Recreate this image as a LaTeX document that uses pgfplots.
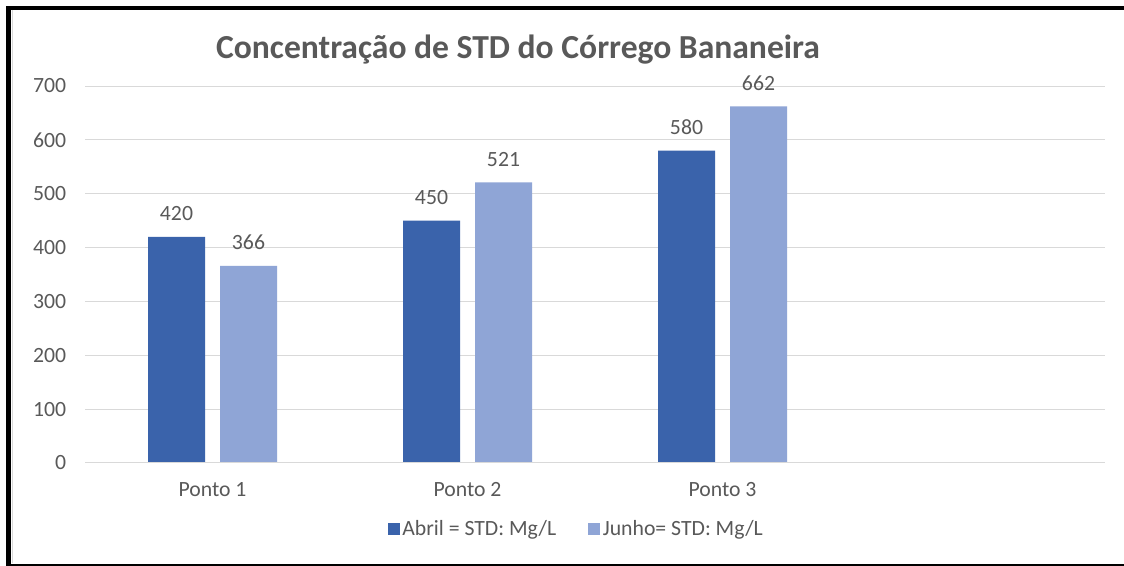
\documentclass[border=0pt]{standalone}
\usepackage{fontspec}
\setmainfont{Carlito}
\usepackage{pgfplots}
\pgfplotsset{compat=1.18}
\definecolor{abril}{HTML}{3A63AB}
\definecolor{junho}{HTML}{8FA5D6}
\definecolor{txt}{HTML}{595959}
\definecolor{gridc}{HTML}{D9D9D9}
\begin{document}
\begin{tikzpicture}[x=1pt,y=1pt]
\path[use as bounding box] (0,0) rectangle (843,424.5);
\fill[white] (0,0) rectangle (843,424.5);
\begin{axis}[
  at={(63.75pt,77.25pt)}, anchor=south west,
  scale only axis, width=765pt, height=282.75pt,
  xmin=-0.5, xmax=3.5, ymin=0, ymax=700,
  ytick={0,100,...,700},
  xtick={0,1,2}, xticklabels={Ponto 1,Ponto 2,Ponto 3},
  axis line style={draw=none},
  major tick length=0pt,
  xmajorgrids=false,
  ymajorgrids=true,
  major grid style={draw=gridc, line width=0.75pt},
  every tick label/.append style={font=\fontsize{16.3}{18}\selectfont, text=txt},
  /pgf/number format/assume math mode=true,
  yticklabel style={anchor=east, inner sep=0pt, xshift=-14pt},
  xticklabel style={anchor=base, inner sep=0pt, yshift=-25.5pt},
  ybar, bar width=42.75pt,
  nodes near coords,
  every node near coord/.append style={font=\fontsize{16.3}{18}\selectfont, text=txt, anchor=base, inner sep=0pt, yshift=12pt},
  legend style={at={(0.482,-0.176)}, anchor=center, draw=none, fill=none,
    legend columns=2, font=\fontsize{16.3}{18}\selectfont, text=txt,
    /tikz/every even column/.append style={column sep=22pt},
    inner sep=0pt},
  legend image code/.code={\fill[#1] (0pt,-4.5pt) rectangle (9pt,4.5pt);},
]
\addplot[fill=abril, draw=none, bar shift=-27pt] coordinates {(0,420) (1,450) (2,580)};
\addlegendentry{Abril = STD: Mg/L}
\addplot[fill=junho, draw=none, bar shift=27pt] coordinates {(0,366) (1,521) (2,662)};
\addlegendentry{Junho= STD: Mg/L}
\draw[draw=gridc, line width=0.9pt] (axis cs:-0.5,0) -- (axis cs:3.5,0);
\end{axis}
\node[text=txt, font=\bfseries\fontsize{25.2}{28}\selectfont] at (388.5,387.5) {Concentração de STD do Córrego Bananeira};
\draw[black, line width=3.75pt] (6.4,0) -- (6.4,420);
\draw[black, line width=3pt] (4.5,418.5) -- (843,418.5);
\draw[black, line width=1.5pt] (4.5,0.75) -- (843,0.75);
\draw[draw=gridc, line width=0.75pt] (9.2,2) -- (9.2,417);
\end{tikzpicture}
\end{document}
